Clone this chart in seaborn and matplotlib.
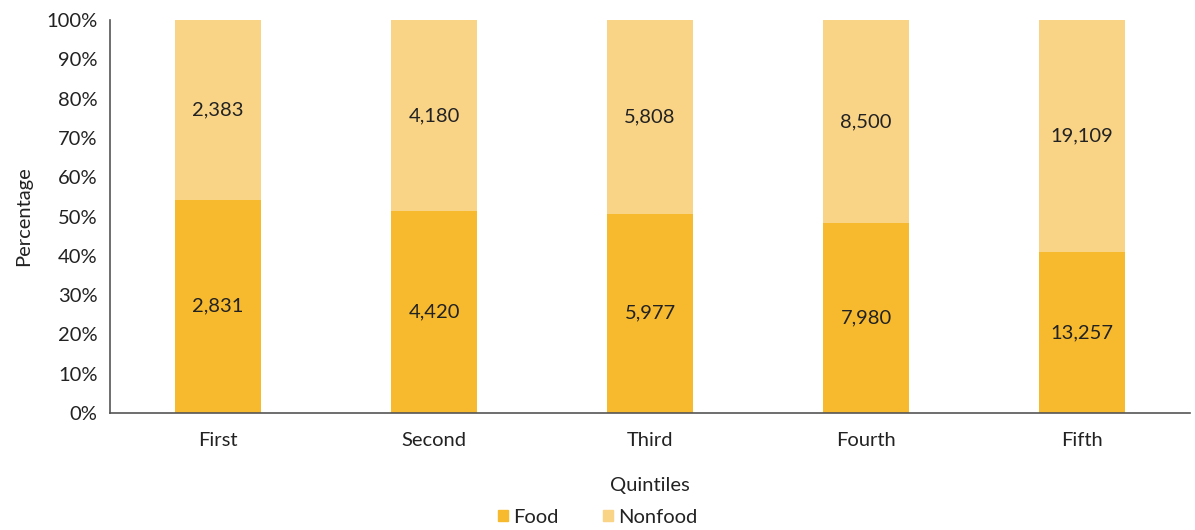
import numpy as np
import pandas as pd
import matplotlib
matplotlib.use("Agg")
import matplotlib.pyplot as plt
from matplotlib.patches import Patch
from matplotlib.ticker import FixedLocator, PercentFormatter
import seaborn as sns

quintiles = ["First", "Second", "Third", "Fourth", "Fifth"]
food = [2831, 4420, 5977, 7980, 13257]
nonfood = [2383, 4180, 5808, 8500, 19109]

food_color = "#F7BA2E"
nonfood_color = "#F9D386"
axis_color = "#555555"
text_color = "#222222"

df = pd.DataFrame({"quintile": quintiles, "food": food, "nonfood": nonfood})
df["total"] = df["food"] + df["nonfood"]
df["food_pct"] = df["food"] / df["total"] * 100
df["all_pct"] = 100.0

sns.set_style("white")
plt.rcParams["font.family"] = ["Lato", "DejaVu Sans"]

fig = plt.figure(figsize=(11.95, 5.3), dpi=100)
ax = fig.add_axes([0.092, 0.221, 0.904, 0.741])

sns.barplot(data=df, x="quintile", y="all_pct", color=nonfood_color,
            width=0.4, saturation=1, linewidth=0, ax=ax, order=quintiles)
sns.barplot(data=df, x="quintile", y="food_pct", color=food_color,
            width=0.4, saturation=1, linewidth=0, ax=ax, order=quintiles)

# value labels, centred in each segment
for i, row in df.iterrows():
    ax.text(i, row["food_pct"] / 2, f"{row['food']:,}", ha="center", va="center",
            fontsize=14.5, color=text_color)
    ax.text(i, (row["food_pct"] + 100) / 2, f"{row['nonfood']:,}",
            ha="center", va="center", fontsize=14.5, color=text_color)

ax.set_xlim(-0.5, len(quintiles) - 0.5)
ax.set_ylim(0, 100)
ax.yaxis.set_major_locator(FixedLocator(np.arange(0, 101, 10)))
ax.yaxis.set_major_formatter(PercentFormatter(decimals=0))

# ticks at category boundaries, labels at centres
ax.xaxis.set_major_locator(FixedLocator(np.arange(-0.5, len(quintiles), 1)))
ax.set_xticklabels([""] * (len(quintiles) + 1))
ax.set_xticks(np.arange(len(quintiles)), quintiles, minor=True)
ax.tick_params(axis="x", which="minor", length=0, pad=14, labelsize=14.5, labelcolor=text_color)
ax.tick_params(axis="x", which="major", length=5, direction="out", color=axis_color, width=1.2)
ax.tick_params(axis="y", length=5, direction="out", color=axis_color, width=1.2,
               labelsize=14.5, labelcolor=text_color, pad=4)

for side in ["top", "right"]:
    ax.spines[side].set_visible(False)
for side in ["left", "bottom"]:
    ax.spines[side].set_color(axis_color)
    ax.spines[side].set_linewidth(1.2)

ax.set_xlabel("Quintiles", fontsize=14.5, color=text_color, labelpad=20)
ax.set_ylabel("Percentage", fontsize=14.5, color=text_color, labelpad=10)

handles = [Patch(color=food_color, label="Food"), Patch(color=nonfood_color, label="Nonfood")]
fig.legend(handles=handles, loc="center", bbox_to_anchor=(0.5, 0.024), ncol=2, frameon=False,
           fontsize=14.5, handlelength=0.5, handleheight=0.5, handletextpad=0.25, columnspacing=2.2,
           labelcolor=text_color)

fig.savefig("out.png", dpi=100)
